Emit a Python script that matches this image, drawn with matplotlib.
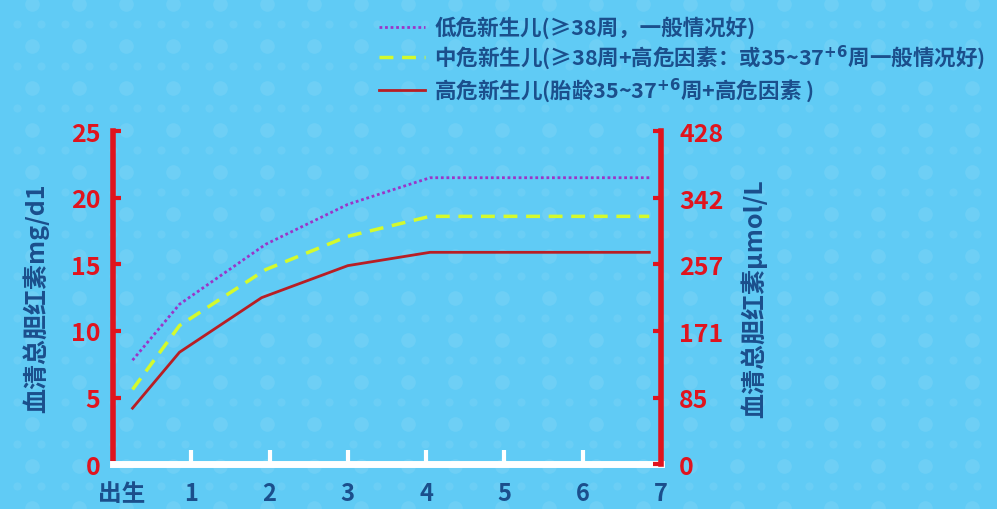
import numpy as np
import matplotlib.pyplot as plt
from matplotlib.transforms import ScaledTranslation

plt.rcParams['font.family'] = ['Noto Sans CJK SC', 'DejaVu Sans']
plt.rcParams['font.weight'] = 'bold'
plt.rcParams['mathtext.default'] = 'bf'

# data (days after birth, bilirubin mg/dl)
days_low = [0.25, 0.85, 1.95, 3.0, 4.05, 6.85]
low_risk = [7.8, 12.0, 16.5, 19.5, 21.5, 21.5]
days_mid = [0.25, 0.85, 1.95, 3.0, 4.05, 6.85]
mid_risk = [5.6, 10.4, 14.6, 17.1, 18.6, 18.6]
days_high = [0.25, 0.85, 1.9, 3.0, 4.05, 6.85]
high_risk = [4.2, 8.4, 12.5, 14.9, 15.9, 15.9]

x_ticks = [0, 1, 2, 3, 4, 5, 6, 7]
x_labels = ['出生', '1', '2', '3', '4', '5', '6', '7']
left_ticks = [0, 5, 10, 15, 20, 25]
right_ticks = [0, 85, 171, 257, 342, 428]

labels = [
    '低危新生儿(≥38周，一般情况好)',
    '中危新生儿(≥38周+高危因素：或35~37$^{+6}$周一般情况好)',
    '高危新生儿(胎龄35~37$^{+6}$周+高危因素 )',
]

bg = '#60cbf5'
red = '#e0141e'
navy = '#1b4f8c'

fig = plt.figure(figsize=(9.97, 5.1), dpi=100)
fig.patch.set_facecolor(bg)

# faint polka dots in the background
bgax = fig.add_axes([0, 0, 1, 1], zorder=-5)
bgax.set_xlim(0, 997)
bgax.set_ylim(510, 0)
bgax.axis('off')
bx, by = np.meshgrid(np.arange(32, 1000, 47), np.arange(5, 530, 42))
bgax.scatter(bx.ravel(), by.ravel(), s=110, color='white', alpha=0.09, lw=0)
sx, sy = np.meshgrid(np.arange(17, 1000, 24), np.arange(25, 530, 42))
bgax.scatter(sx.ravel(), sy.ravel(), s=35, color='white', alpha=0.07, lw=0)

ax = fig.add_axes([0.1133, 0.088, 0.5497, 0.653])
ax.patch.set_alpha(0)
ax.plot(days_low, low_risk, color='#9b35c8', lw=2, ls=(0, (1, 1)), label=labels[0])
ax.plot(days_mid, mid_risk, color='#d4fa2c', lw=2.5, ls=(0, (4, 2.5)), label=labels[1])
ax.plot(days_high, high_risk, color='#b81e24', lw=2, label=labels[2])

ax.set_xlim(0, 7)
ax.set_ylim(0, 25)
ax.set_xticks(x_ticks)
ax.set_xticklabels(x_labels, color=navy, fontsize=17, fontweight='bold')
ax.set_yticks(left_ticks)
ax.tick_params(axis='y', direction='in', length=6, width=3, color=red,
               labelcolor=red, labelsize=18, pad=9)
ax.tick_params(axis='x', direction='in', length=10, width=3, color='white', pad=12)
ax.xaxis.get_major_ticks()[0].tick1line.set_visible(False)
# nudge "出生" to the right so it clears the 0 label
lbl0 = ax.get_xticklabels()[0]
lbl0.set_transform(lbl0.get_transform() + ScaledTranslation(9 / 100, 0, fig.dpi_scale_trans))

for s in ['top', 'right']:
    ax.spines[s].set_visible(False)
ax.spines['left'].set_color(red)
ax.spines['left'].set_linewidth(4)
ax.spines['bottom'].set_color('white')
ax.spines['bottom'].set_linewidth(5)
ax.set_ylabel('血清总胆红素mg/d1', color=navy, fontsize=18, fontweight='bold', labelpad=16)

ax2 = ax.twinx()
ax2.set_ylim(0, 428)
ax2.set_yticks(right_ticks)
ax2.tick_params(axis='y', direction='in', length=6, width=3, color=red,
                labelcolor=red, labelsize=18, pad=13)
for s in ['top', 'left', 'bottom']:
    ax2.spines[s].set_visible(False)
ax2.spines['right'].set_color(red)
ax2.spines['right'].set_linewidth(4)
ax2.set_ylabel('血清总胆红素μmol/L', color=navy, fontsize=18, fontweight='bold',
               rotation=90, labelpad=12)

leg = fig.legend(loc='upper left', bbox_to_anchor=(0.361, 1.005), frameon=False,
                 fontsize=15.5, handlelength=2.1, handletextpad=0.45, labelspacing=0.2)
for t in leg.get_texts():
    t.set_color(navy)
    t.set_fontweight('bold')

fig.savefig('out.png', dpi=100, facecolor=fig.get_facecolor())
